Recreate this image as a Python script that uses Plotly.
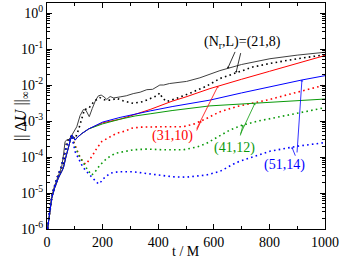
import numpy as np
import plotly.graph_objects as go

# ---- data (log10 of the error) ----
t_21_8_solid = [2, 10, 17, 25, 35, 45, 53, 60, 65, 72, 77, 85, 95, 107, 119, 131, 140, 152, 163, 175,
                185, 195, 205, 215, 227, 240, 263, 285, 310, 335, 359, 380, 406, 420, 440, 470, 502,
                550, 622, 700, 802, 900, 1000]
log_21_8_solid = [-6.0, -5.5, -5.1, -4.85, -4.64, -4.45, -4.27, -3.9, -3.57, -3.52, -3.53, -3.45, -3.3,
                  -3.16, -2.85, -2.68, -2.7, -2.88, -2.65, -2.42, -2.3, -2.28, -2.33, -2.4, -2.32, -2.36,
                  -2.33, -2.3, -2.24, -2.2, -2.13, -2.12, -2.0, -2.0, -1.96, -1.93, -1.9, -1.8, -1.6,
                  -1.43, -1.27, -1.17, -1.09]

t_21_8_dot = [2, 10, 20, 29, 40, 47, 59, 71, 80, 88, 101, 113, 125, 135, 150, 170, 190, 210, 233, 251,
              274, 310, 346, 380, 395, 406, 415, 430, 467, 514, 574, 622, 682, 740, 802, 900, 1000]
log_21_8_dot = [-6.0, -5.6, -5.0, -4.82, -4.6, -4.41, -4.18, -3.57, -3.5, -3.4, -3.5, -3.25, -2.9, -2.68,
                -2.65, -2.45, -2.35, -2.42, -2.42, -2.37, -2.44, -2.51, -2.46, -2.36, -2.3, -2.22, -2.36,
                -2.46, -2.37, -2.23, -2.03, -1.82, -1.65, -1.5, -1.4, -1.27, -1.16]

t_solid_common = [2, 8, 17, 28, 41, 53, 59, 68, 77, 84, 89, 95, 101, 110, 125, 150]
log_solid_common = [-6.0, -5.6, -5.15, -4.85, -4.58, -4.4, -4.3, -4.0, -3.71, -3.5, -3.39, -3.45, -3.53,
                    -3.45, -3.35, -3.22]

t_31_10_solid = t_solid_common + [200, 263, 317, 371, 450, 500, 586, 615, 700, 800, 900, 1000]
log_31_10_solid = log_solid_common + [-3.05, -2.95, -2.82, -2.68, -2.45, -2.33, -2.1, -2.03, -1.84,
                                      -1.62, -1.4, -1.18]

t_41_12_solid = t_solid_common + [200, 263, 317, 371, 450, 586, 700, 800, 900, 1000]
log_41_12_solid = log_solid_common + [-3.08, -2.95, -2.86, -2.8, -2.71, -2.58, -2.53, -2.48, -2.44, -2.39]

t_51_14_solid = t_solid_common + [200, 263, 317, 371, 450, 586, 700, 800, 917, 1000]
log_51_14_solid = log_solid_common + [-3.03, -2.9, -2.8, -2.72, -2.6, -2.42, -2.22, -2.05, -1.86, -1.74]

t_dot_common = [2, 10, 20, 35, 50, 59, 70, 83, 90]
log_dot_common = [-6.0, -5.4, -5.0, -4.6, -4.3, -4.0, -3.7, -3.5, -3.45]

t_31_10_dot = t_dot_common + [100, 115, 130, 140, 150, 161, 179, 197, 227, 251, 281, 305, 335, 371, 420,
                              490, 530, 574, 620, 682, 740, 802, 900, 1000]
log_31_10_dot = log_dot_common + [-3.65, -3.95, -4.15, -4.2, -4.1, -3.99, -3.76, -3.57, -3.44, -3.34,
                                  -3.28, -3.2, -3.17, -3.16, -3.16, -3.16, -3.08, -2.93, -2.75, -2.6,
                                  -2.5, -2.4, -2.2, -2.0]

t_41_12_dot = t_dot_common + [100, 115, 130, 145, 161, 173, 191, 215, 245, 281, 310, 359, 420, 490, 540,
                              574, 620, 658, 700, 760, 838, 920, 1000]
log_41_12_dot = log_dot_common + [-3.7, -3.95, -4.15, -4.35, -4.5, -4.41, -4.22, -4.04, -3.9, -3.85,
                                  -3.8, -3.78, -3.8, -3.8, -3.72, -3.62, -3.42, -3.25, -3.12, -3.0,
                                  -2.88, -2.75, -2.63]

t_51_14_dot = t_dot_common + [101, 113, 125, 137, 155, 173, 185, 195, 203, 227, 256, 310, 359, 400, 454,
                              502, 574, 622, 682, 740, 802, 900, 1000]
log_51_14_dot = log_dot_common + [-3.85, -4.04, -4.22, -4.36, -4.5, -4.64, -4.75, -4.68, -4.6, -4.45,
                                  -4.41, -4.41, -4.45, -4.5, -4.55, -4.56, -4.5, -4.4, -4.15, -4.0,
                                  -3.84, -3.7, -3.6]

x_ticks = [0, 200, 400, 600, 800, 1000]
x_minor = [100, 300, 500, 700, 900]
y_exps = [-6, -5, -4, -3, -2, -1, 0]
y_ticktext = ["10<sup>%d</sup>" % e for e in y_exps]

RED, GREEN, BLUE, BLACK = "#ff0000", "#0a9a0a", "#0000ff", "#000000"
FONT = "Liberation Serif"
DOT = "1.6px,3.2px"

fig = go.Figure()

def add(t, lg, color, dotted):
    fig.add_trace(go.Scatter(
        x=t, y=10 ** np.array(lg), mode="lines",
        line=dict(color=color, width=1.6 if dotted else 1, dash=DOT if dotted else "solid"),
        showlegend=False, hoverinfo="skip"))

add(t_21_8_solid, log_21_8_solid, "#404040", False)
add(t_21_8_dot, log_21_8_dot, BLACK, True)
add(t_31_10_solid, log_31_10_solid, RED, False)
add(t_31_10_dot, log_31_10_dot, RED, True)
add(t_41_12_solid, log_41_12_solid, GREEN, False)
add(t_41_12_dot, log_41_12_dot, GREEN, True)
add(t_51_14_solid, log_51_14_solid, BLUE, False)
add(t_51_14_dot, log_51_14_dot, BLUE, True)

annotations = []

def arrow(t_arr, lg_arr, t, ax, ay, color):
    annotations.append(dict(
        x=t, y=float(np.interp(t, t_arr, lg_arr)), xref="x", yref="y", text="",
        showarrow=True, arrowhead=1, arrowsize=0.6, arrowwidth=0.8, arrowcolor=color,
        ax=ax, ay=ay, standoff=0))

def label(text, x, ylog, color):
    annotations.append(dict(
        x=x, y=ylog, xref="x", yref="y", text=text, showarrow=False,
        font=dict(family=FONT, size=14, color=color)))

label("(N<sub>r</sub>,L)=(21,8)", 705, -0.83, BLACK)
arrow(t_21_8_solid, log_21_8_solid, 650, 8, -18, BLACK)
arrow(t_21_8_dot, log_21_8_dot, 680, 5, -21, BLACK)

label("(31,10)", 453, -3.42, RED)
arrow(t_31_10_solid, log_31_10_solid, 615, -22, 44, RED)
arrow(t_31_10_dot, log_31_10_dot, 554, -5, 11, RED)

label("(41,12)", 673, -3.75, GREEN)
arrow(t_41_12_solid, log_41_12_solid, 748, -15, 32, GREEN)
arrow(t_41_12_dot, log_41_12_dot, 705, -3, 12, GREEN)

label("(51,14)", 853, -4.22, BLUE)
arrow(t_51_14_solid, log_51_14_solid, 917, -5, 74, BLUE)
arrow(t_51_14_dot, log_51_14_dot, 881, 4, 10, BLUE)

annotations.append(dict(
    x=-0.135, y=0.5, xref="paper", yref="paper", text="|| Δ<i>U</i> ||<sub>∞</sub>",
    textangle=-90, showarrow=False, font=dict(family=FONT, size=16, color=BLACK)))
annotations.append(dict(
    x=0.5, y=-0.1, xref="paper", yref="paper", text="t / M", yanchor="middle",
    showarrow=False, font=dict(family=FONT, size=14, color=BLACK)))

fig.update_layout(
    width=342, height=258,
    margin=dict(l=47, r=17, t=3, b=29),
    paper_bgcolor="white", plot_bgcolor="white",
    annotations=annotations,
    font=dict(family=FONT, size=14, color=BLACK),
    xaxis=dict(range=[0, 1000], tickvals=x_ticks, ticks="inside", ticklen=5, tickcolor=BLACK,
               minor=dict(tickvals=x_minor, ticks="inside", ticklen=3, tickcolor=BLACK),
               showline=True, linecolor=BLACK, linewidth=1, mirror="ticks", showgrid=False,
               zeroline=False, tickfont=dict(family=FONT, size=14)),
    yaxis=dict(type="log", range=[-6, 0.278], tickvals=[10.0 ** e for e in y_exps], ticktext=y_ticktext,
               ticks="inside", ticklen=5, tickcolor=BLACK,
               minor=dict(tickvals=[m * 10.0 ** e for e in y_exps[:-1] for m in range(2, 10)] + [2.0, 3.0],
                          ticks="inside", ticklen=3, tickcolor=BLACK),
               showline=True, linecolor=BLACK, linewidth=1, mirror="ticks", showgrid=False,
               zeroline=False, tickfont=dict(family=FONT, size=14)),
)

fig.write_html("out.html", config={"displayModeBar": False},
               post_script="document.body.style.margin='0';document.body.style.padding='0';")
